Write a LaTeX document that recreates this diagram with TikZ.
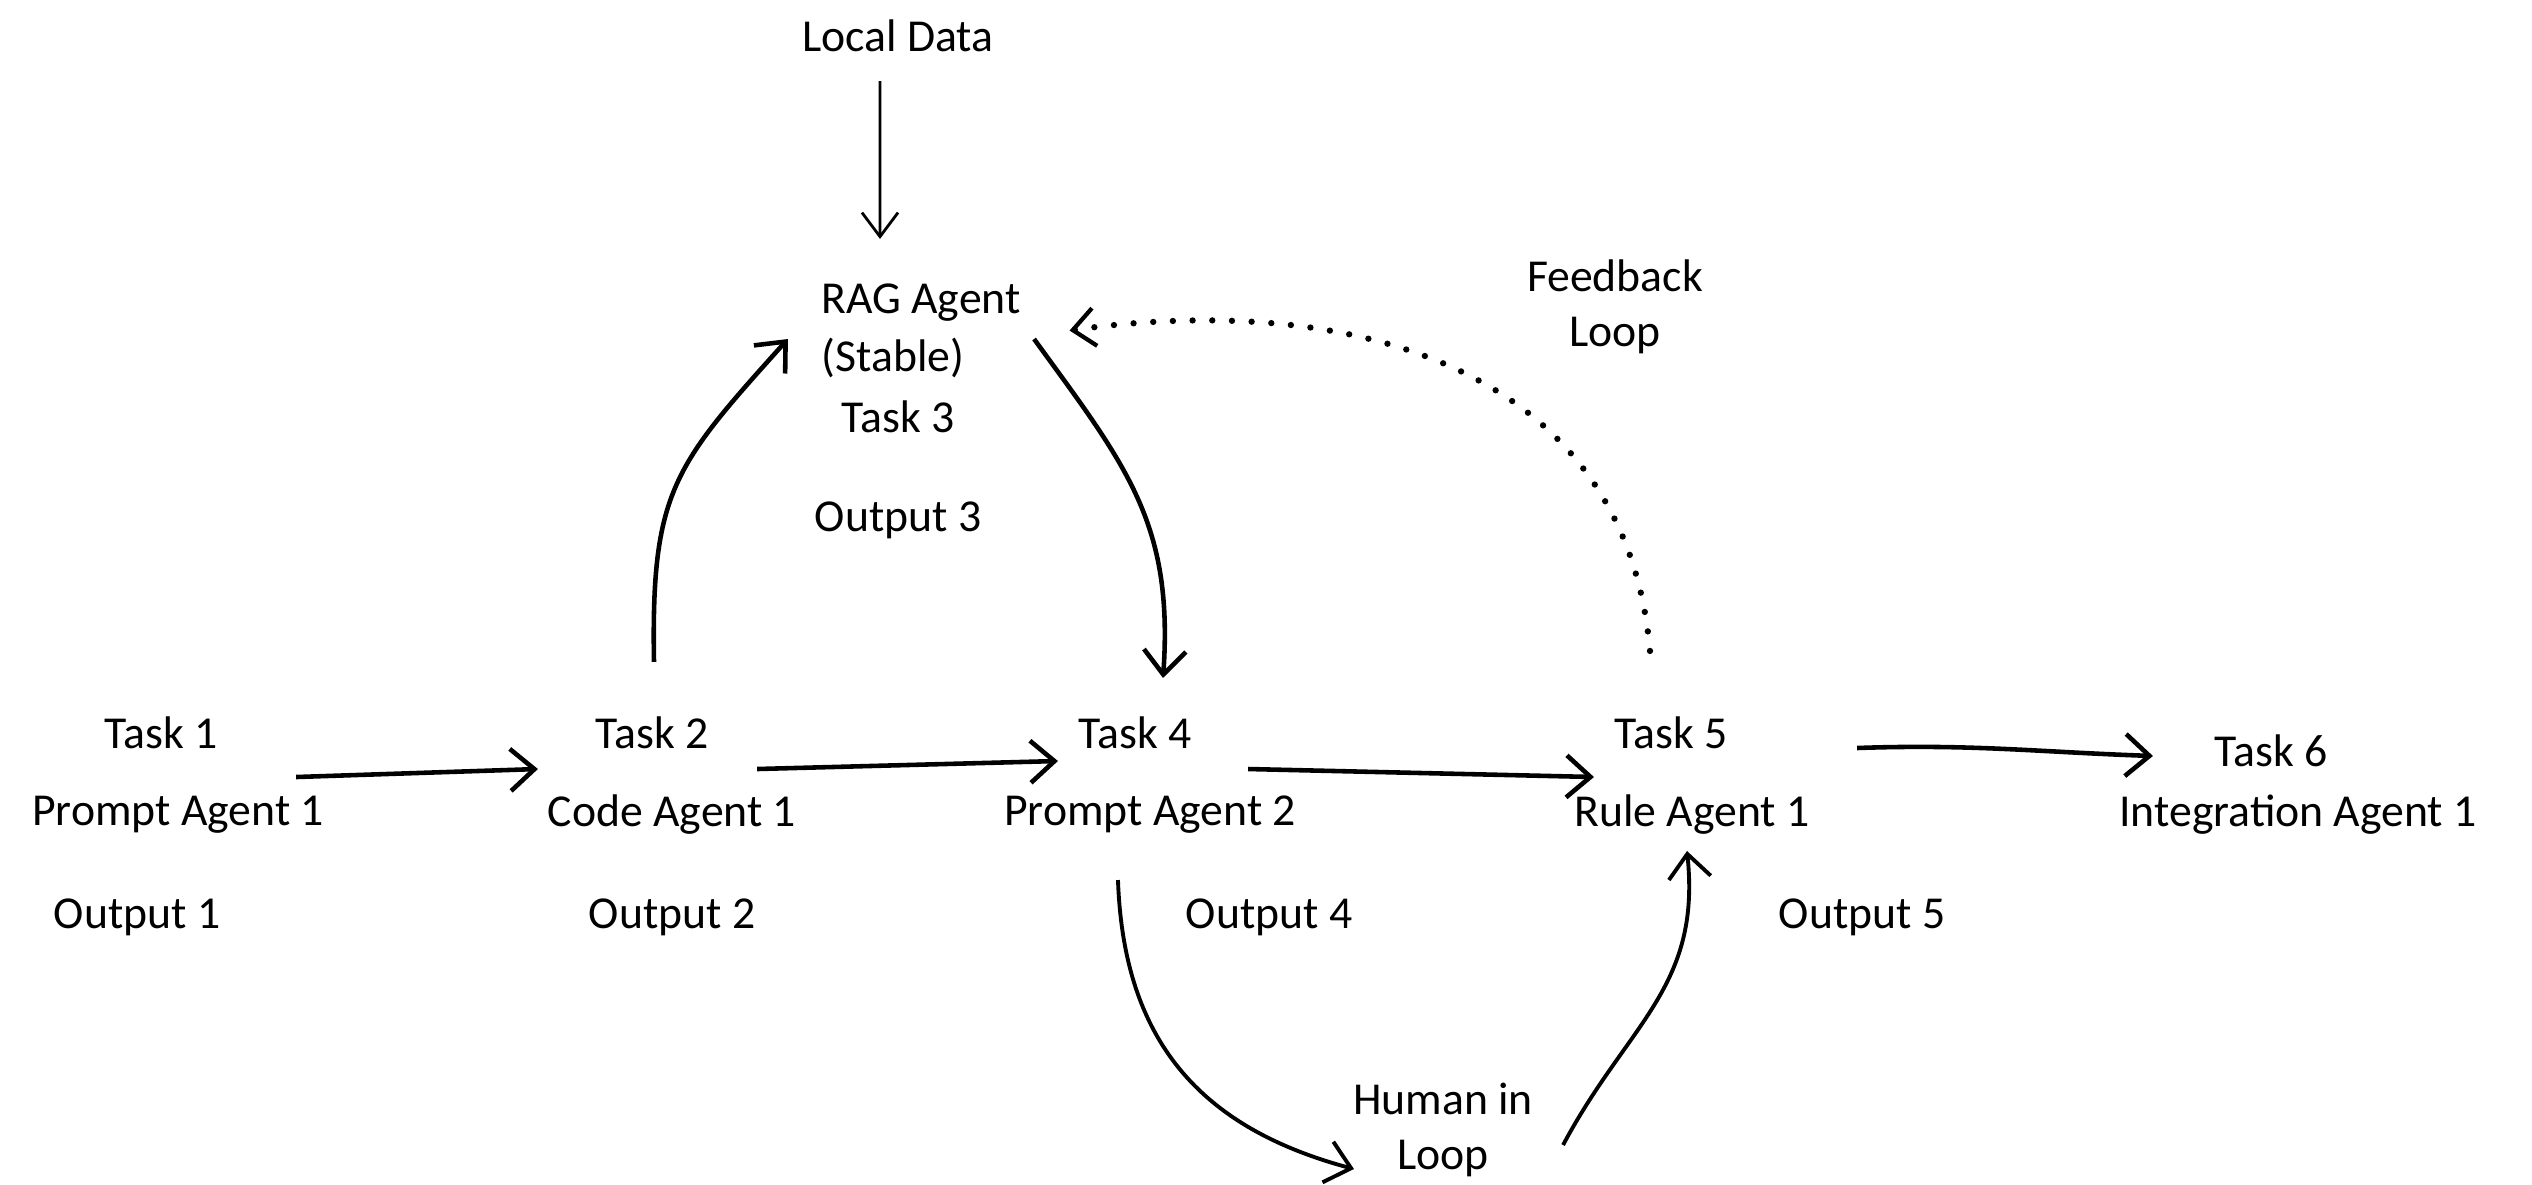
\documentclass[tikz,border=0pt]{standalone}
\usepackage{fontspec}
\setmainfont{Carlito}
\usetikzlibrary{arrows.meta}

\begin{document}
\begin{tikzpicture}[x=0.01cm, y=-0.01cm,
  every node/.style={font=\fontsize{13}{15.6}\selectfont, align=center},
  arr/.style={-{Straight Barb[length=2.4mm,width=4.2mm]}, line width=1.3pt},
  thinarr/.style={-{Straight Barb[length=2.4mm,width=3.6mm]}, line width=0.8pt},
  dots/.style={-{Straight Barb[length=2.2mm,width=3.8mm,line width=1.2pt,sep=1pt]}, line width=1.8pt, dash pattern=on 0pt off 5.6pt, line cap=round}]
  \useasboundingbox (0,0) rectangle (2532,1185);
  \node (ld) at (898,36) {Local Data};
  \node (rag) at (921,303) {RAG Agent};
  \node (stb) at (893,358) {(Stable)};
  \node (t3) at (898,417) {Task 3};
  \node (o3) at (898,520) {Output 3};
  \node (fb) at (1615,307) {Feedback\\Loop};
  \node (t1) at (161,733) {Task 1};
  \node (a1) at (178,815) {Prompt Agent 1};
  \node (o1) at (137,917) {Output 1};
  \node (t2) at (652,733) {Task 2};
  \node (a2) at (672,815) {Code Agent 1};
  \node (o2) at (672,917) {Output 2};
  \node (t4) at (1135,733) {Task 4};
  \node (a4) at (1150,815) {Prompt Agent 2};
  \node (o4) at (1269,917) {Output 4};
  \node (t5) at (1671,733) {Task 5};
  \node (a5) at (1692,815) {Rule Agent 1};
  \node (o5) at (1862,917) {Output 5};
  \node (t6) at (2271,751) {Task 6};
  \node (a6) at (2298,815) {Integration Agent 1};
  \node (hil) at (1443,1130) {Human in\\Loop};
  \draw[thinarr] ([xshift=-0.18cm,yshift=-0.45cm]ld.center) -- ([xshift=-0.41cm,yshift=0.64cm]rag.center);
  \draw[arr] ([xshift=1.35cm,yshift=-0.44cm]t1.center) -- ([xshift=-1.14cm,yshift=-0.36cm]t2.center);
  \draw[arr] ([xshift=0.02cm,yshift=0.71cm]t2.center) to[out=91,in=228,looseness=1.25] ([xshift=-1.33cm,yshift=-0.36cm]rag.center);
  \draw[arr] ([xshift=1.13cm,yshift=-0.36cm]rag.center) to[out=-54,in=86,looseness=1.1] ([xshift=0.28cm,yshift=0.55cm]t4.center);
  \draw[arr] ([xshift=1.05cm,yshift=-0.36cm]t2.center) -- ([xshift=-0.77cm,yshift=-0.28cm]t4.center);
  \draw[arr] ([xshift=1.13cm,yshift=-0.36cm]t4.center) -- ([xshift=-0.77cm,yshift=-0.44cm]t5.center);
  \draw[arr] ([xshift=1.86cm,yshift=-0.15cm]t5.center) to[out=2,in=178] ([xshift=-1.18cm,yshift=-0.05cm]t6.center);
  \draw[arr, line width=1.1pt] ([xshift=-0.32cm,yshift=-0.65cm]a4.center) to[out=-88,in=165,looseness=1.1] ([xshift=-0.89cm,yshift=-0.39cm]hil.center);
  \draw[arr, line width=1.1pt] ([xshift=1.2cm,yshift=-0.15cm]hil.center) to[out=62,in=-84,looseness=1.1] ([xshift=-0.05cm,yshift=-0.36cm]a5.center);
  \draw[dots] ([xshift=-0.21cm,yshift=0.82cm]t5.center) to[out=95,in=8,looseness=1.1] ([xshift=1.45cm,yshift=-0.28cm]rag.center);
\end{tikzpicture}
\end{document}
